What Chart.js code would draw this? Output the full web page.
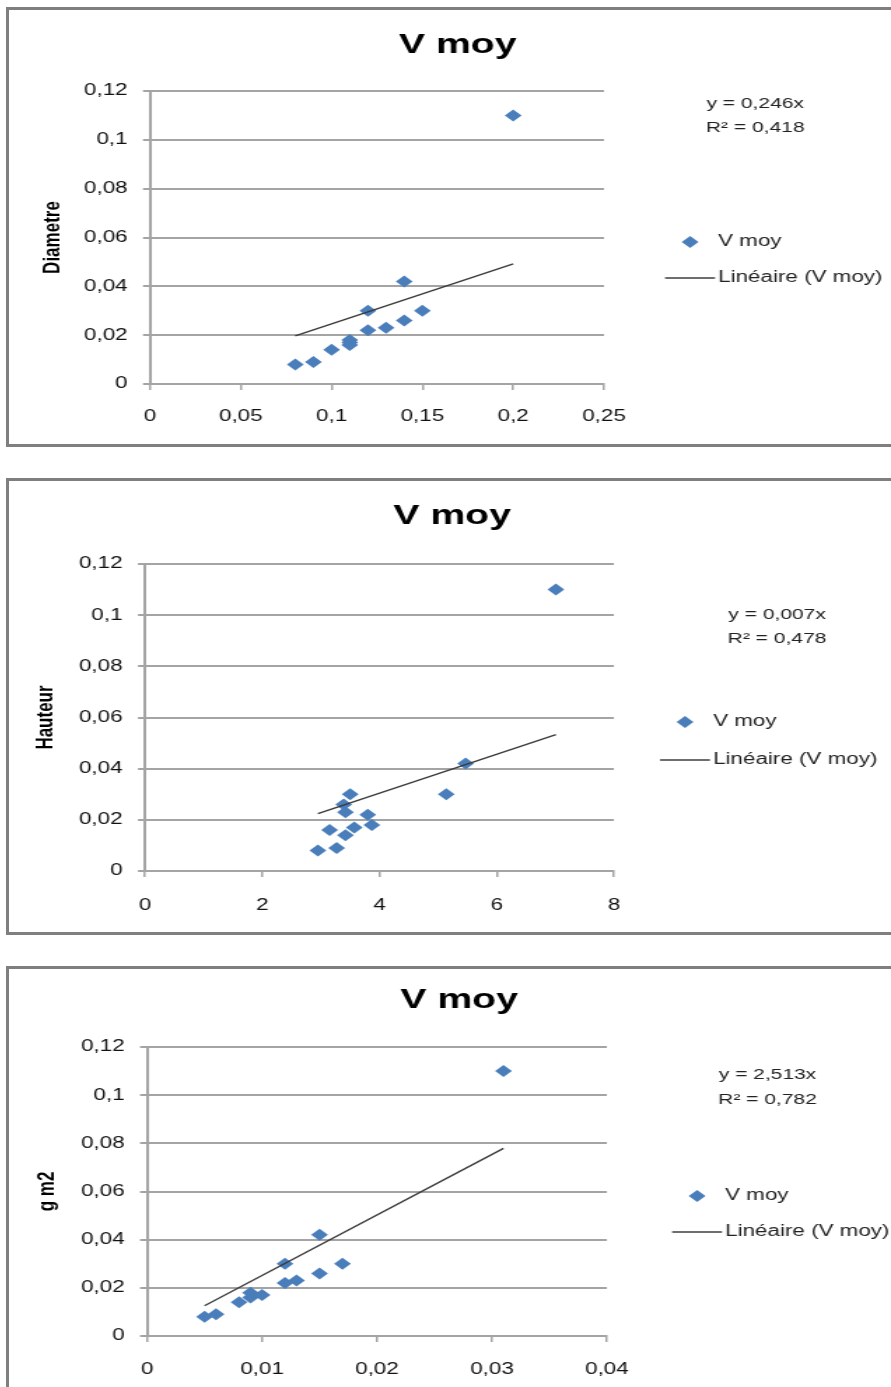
<!DOCTYPE html>
<html>
<head>
<meta charset="utf-8">
<script src="https://cdn.jsdelivr.net/npm/chart.js@4.4.0/dist/chart.umd.min.js"></script>
<style>
html,body{margin:0;padding:0;background:#fff;}
body{width:891px;height:1387px;overflow:hidden;position:relative;}
.panel{position:absolute;left:6px;width:1000px;border:3px solid #7f7f7f;box-sizing:border-box;overflow:hidden;background:#fff;}
.stretch{position:absolute;left:0;top:0;transform:scaleX(1.4);transform-origin:0 0;}
canvas{display:block;}
</style>
</head>
<body>
<div class="panel" style="top:7px;height:440px"><div class="stretch"><canvas id="c1" width="641" height="434"></canvas></div></div>
<div class="panel" style="top:478px;height:457px"><div class="stretch"><canvas id="c2" width="633" height="451"></canvas></div></div>
<div class="panel" style="top:966px;height:440px"><div class="stretch"><canvas id="c3" width="643" height="430"></canvas></div></div>
<script>
// V moy against diametre
let diametre = [0.08, 0.09, 0.10, 0.11, 0.11, 0.11, 0.12, 0.12, 0.13, 0.14, 0.14, 0.15, 0.20]
let vmoyD    = [0.008, 0.009, 0.014, 0.016, 0.017, 0.018, 0.030, 0.022, 0.023, 0.042, 0.026, 0.030, 0.110]
// V moy against hauteur
let hauteur  = [2.95, 3.27, 3.15, 3.39, 3.42, 3.50, 3.42, 3.57, 3.80, 3.87, 5.14, 5.47, 7.01]
let vmoyH    = [0.008, 0.009, 0.016, 0.026, 0.023, 0.030, 0.014, 0.017, 0.022, 0.018, 0.030, 0.042, 0.110]
// V moy against g m2
let gm2      = [0.005, 0.006, 0.008, 0.009, 0.009, 0.010, 0.012, 0.012, 0.013, 0.015, 0.015, 0.017, 0.031]
let vmoyG    = [0.008, 0.009, 0.014, 0.016, 0.018, 0.017, 0.030, 0.022, 0.023, 0.042, 0.026, 0.030, 0.110]

let xTicksD = [0, 0.05, 0.1, 0.15, 0.2, 0.25]
let xTicksH = [0, 2, 4, 6, 8]
let xTicksG = [0, 0.01, 0.02, 0.03, 0.04]
let yTicks  = [0, 0.02, 0.04, 0.06, 0.08, 0.1, 0.12]

// trendline slopes (y = a.x) and the label Excel printed
let slopes = [0.246, 0.0076, 2.513]
let eqD = ['y = 0,246x', 'R² = 0,418']
let eqH = ['y = 0,007x', 'R² = 0,478']
let eqG = ['y = 2,513x', 'R² = 0,782']

const GRID = '#a4a4a4'
const BLUE = '#4a7ebb'
Chart.defaults.font.family = '"Liberation Sans", Arial, sans-serif'

let fmt = v => String(v).replace('.', ',')

let trend = (xs, a) => {
	let lo = Math.min(...xs), hi = Math.max(...xs)
	return [{x: lo, y: a * lo}, {x: hi, y: a * hi}]
}

// equation + legend on the right, like the excel box
let sideBox = {
	id: 'sideBox',
	afterLayout: chart => {
		// title centred on the whole canvas, not only the padded part
		let t = chart.titleBlock
		if (t) { t.left = 0; t.right = chart.width; t.width = chart.width }
	},
	afterDraw: (chart, args, o) => {
		let ctx = chart.ctx
		let ds = chart.data.datasets
		ctx.save()
		ctx.fillStyle = '#222'
		ctx.textBaseline = 'middle'
		ctx.font = '15px "Liberation Sans"'
		ctx.textAlign = 'center'
		ctx.fillText(o.eq[0], o.eqX, o.eqY[0])
		ctx.fillText(o.eq[1], o.eqX, o.eqY[1])
		// diamond
		let cx = o.lx + 17.9, r = 6
		ctx.fillStyle = BLUE
		ctx.beginPath()
		ctx.moveTo(cx - r, o.ly[0]); ctx.lineTo(cx, o.ly[0] - r)
		ctx.lineTo(cx + r, o.ly[0]); ctx.lineTo(cx, o.ly[0] + r)
		ctx.closePath(); ctx.fill()
		// line sample
		ctx.strokeStyle = '#6e6e6e'
		ctx.lineWidth = 2
		ctx.beginPath()
		ctx.moveTo(o.lx, o.ly[1]); ctx.lineTo(o.lx + 35.7, o.ly[1])
		ctx.stroke()
		ctx.fillStyle = '#222'
		ctx.textAlign = 'left'
		ctx.font = '16px "Liberation Sans"'
		ctx.fillText(ds[1].label, o.lx + 37.9, o.ly[0])
		ctx.fillText(ds[0].label, o.lx + 37.9, o.ly[1])
		ctx.restore()
	}
}

let makeChart = (id, p) => {
	new Chart(document.getElementById(id), {
		type: 'scatter',
		data: {datasets: [
			{label: 'Linéaire (V moy)', type: 'line', data: trend(p.xs, p.slope),
			 borderColor: '#3a3a3a', borderWidth: 1.3, pointRadius: 0, fill: false, order: 0},
			{label: 'V moy', data: p.xs.map((x, i) => ({x: x, y: p.ys[i]})),
			 pointStyle: 'rectRot', pointRadius: 6, backgroundColor: BLUE, borderColor: BLUE, borderWidth: 0, order: 1}
		]},
		options: {
			responsive: false,
			animation: false,
			events: [],
			layout: {padding: {left: 0, top: 0, right: p.padRight, bottom: 0}},
			plugins: {
				legend: {display: false},
				tooltip: {enabled: false},
				title: {display: true, text: 'V moy', color: '#000',
					font: {size: 28, weight: 'bold'}, padding: {top: p.titleTop, bottom: p.titleBottom}},
				sideBox: {eq: p.eq, eqX: p.eqX, eqY: p.eqY, lx: p.lx, ly: p.ly}
			},
			scales: {
				x: {
					type: 'linear', min: 0, max: p.xTicks[p.xTicks.length - 1],
					afterBuildTicks: s => { s.ticks = p.xTicks.map(v => ({value: v})) },
					afterFit: s => { s.height = p.xAxisH },
					grid: {drawOnChartArea: false, drawTicks: true, tickLength: 6, color: GRID, lineWidth: 1.5},
					border: {display: true, color: GRID, width: 2},
					ticks: {padding: p.xTickPad, color: '#111', font: {size: 16}, callback: v => fmt(v)}
				},
				y: {
					type: 'linear', min: 0, max: 0.12,
					afterBuildTicks: s => { s.ticks = yTicks.map(v => ({value: v})) },
					afterFit: s => { s.width = p.yAxisW },
					grid: {color: GRID, lineWidth: 2, tickLength: 5},
					border: {display: true, color: GRID, width: 2},
					ticks: {padding: 11, color: '#111', font: {size: 16}, callback: v => fmt(v)},
					title: {display: true, text: p.yTitle, color: '#000', font: {size: 17, weight: 'bold'},
						padding: {top: p.yTitlePad, bottom: 0}}
				}
			}
		},
		plugins: [sideBox]
	})
}

makeChart('c1', {xs: diametre, ys: vmoyD, slope: slopes[0], xTicks: xTicksD, yTitle: 'Diametre',
	padRight: 216, titleTop: 18.2, titleBottom: 29.2, xAxisH: 60, yAxisW: 100.7, yTitlePad: 20.8, xTickPad: 17.4,
	eq: eqD, eqX: 533, eqY: [94, 118], lx: 468.6, ly: [232, 268]})
makeChart('c2', {xs: hauteur, ys: vmoyH, slope: slopes[1], xTicks: xTicksH, yTitle: 'Hauteur',
	padRight: 200.9, titleTop: 18.2, titleBottom: 31.2, xAxisH: 61, yAxisW: 97.1, yTitlePad: 16.6, xTickPad: 19.4,
	eq: eqH, eqX: 548.6, eqY: [134, 158], lx: 465, ly: [241, 279]})
makeChart('c3', {xs: gm2, ys: vmoyG, slope: slopes[2], xTicks: xTicksG, yTitle: 'g m2',
	padRight: 215.9, titleTop: 14.2, titleBottom: 30.2, xAxisH: 63, yAxisW: 98.6, yTitlePad: 17.3, xTickPad: 18.4,
	eq: eqG, eqX: 541.8, eqY: [106, 131], lx: 473.6, ly: [227, 263]})
</script>
</body>
</html>
